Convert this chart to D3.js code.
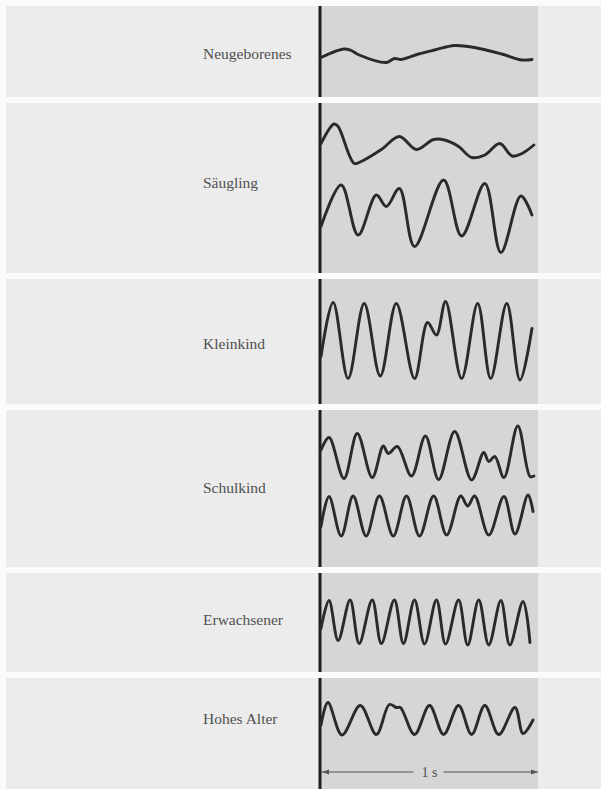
<!DOCTYPE html>
<html>
<head>
<meta charset="utf-8">
<script src="https://cdn.jsdelivr.net/npm/d3@7"></script>
<style>
  body { margin: 0; background: #fbfbfb; }
  svg { display: block; }
  .label { font-family: "Liberation Serif", "DejaVu Serif", serif; font-size: 15.5px; fill: #505050; }
</style>
</head>
<body>
<svg id="chart"></svg>
<script>
// EEG traces: [time in s, amplitude in µV]
let neugeborenes = [[0, -7], [0.106, 10], [0.139, 7], [0.176, -2], [0.301, -17], [0.338, -9], [0.370, -11],
  [0.449, 0], [0.523, 8], [0.616, 17], [0.708, 13], [0.833, 0], [0.926, -12], [0.972, -11]];

let saeuglingA = [[0, 9], [0.060, 48], [0.079, 43], [0.153, -31], [0.185, -27], [0.278, -3], [0.361, 23],
  [0.440, -3], [0.519, 17], [0.569, 16], [0.634, 3], [0.694, -19], [0.755, -14], [0.824, 9], [0.880, -16],
  [0.926, -11], [0.981, 6]];

let saeuglingB = [[0, -17], [0.093, 66], [0.171, -34], [0.255, 46], [0.301, 23], [0.361, 59], [0.431, -57],
  [0.565, 76], [0.648, -36], [0.755, 69], [0.829, -69], [0.921, 44], [0.972, 6]];

let kleinkind = [[0, -31], [0.056, 77], [0.125, -75], [0.199, 75], [0.273, -70], [0.347, 75], [0.431, -75],
  [0.491, 37], [0.532, 12], [0.574, 79], [0.648, -75], [0.722, 75], [0.782, -75], [0.856, 75], [0.917, -78],
  [0.972, 25]];

let schulkindA = [[0, 12], [0.037, 37], [0.106, -45], [0.167, 45], [0.236, -43], [0.287, 20], [0.310, 5],
  [0.352, 19], [0.417, -40], [0.481, 40], [0.542, -47], [0.616, 49], [0.694, -48], [0.750, 7], [0.773, -11],
  [0.801, -1], [0.843, -43], [0.907, 60], [0.963, -41], [0.981, -40]];

let schulkindB = [[0, -21], [0.037, 39], [0.093, -40], [0.148, 40], [0.208, -40], [0.269, 40], [0.333, -40],
  [0.394, 40], [0.454, -40], [0.519, 40], [0.579, -38], [0.644, 40], [0.676, 20], [0.708, 40], [0.773, -38],
  [0.843, 39], [0.894, -36], [0.954, 42], [0.977, 9]];

let erwachsener = [[0, -13], [0.037, 43], [0.079, -37], [0.134, 44], [0.176, -43], [0.236, 44], [0.278, -43],
  [0.338, 44], [0.380, -43], [0.431, 44], [0.477, -44], [0.532, 44], [0.574, -44], [0.634, 44], [0.676, -46],
  [0.727, 44], [0.773, -46], [0.829, 43], [0.870, -46], [0.931, 41], [0.963, -41]];

let hohesAlter = [[0, -10], [0.032, 35], [0.097, -30], [0.181, 29], [0.255, -29], [0.315, 31], [0.347, 25],
  [0.366, 25], [0.431, -29], [0.500, 29], [0.565, -29], [0.634, 29], [0.694, -29], [0.755, 29], [0.819, -29],
  [0.894, 25], [0.931, -27], [0.977, 0]];

let labels = ["Neugeborenes", "Säugling", "Kleinkind", "Schulkind", "Erwachsener", "Hohes Alter"];
let traces = [[neugeborenes], [saeuglingA, saeuglingB], [kleinkind], [schulkindA, schulkindB], [erwachsener], [hohesAlter]];
let timeLabel = "1 s";

// layout
let width = 601, height = 789;
let bands = [[6, 97], [103, 273], [279, 404], [410, 567], [573, 672], [678, 789]];
let baselines = [[54], [148, 218], [341], [456, 516], [622], [720]];
let labelY = [59, 188, 349, 493, 625, 724];
let zone = {x0: 320, x1: 538};

let svg = d3.select("#chart").attr("width", width).attr("height", height);

let x = d3.scaleLinear().domain([0, 1]).range([zone.x0 + 1, zone.x1]);

// panel backgrounds
bands.forEach(([y0, y1]) => {
  svg.append("rect")
    .attr("x", 6).attr("y", y0).attr("width", width - 6).attr("height", y1 - y0)
    .attr("fill", "#ececec");
  svg.append("rect")
    .attr("x", zone.x0).attr("y", y0).attr("width", zone.x1 - zone.x0).attr("height", y1 - y0)
    .attr("fill", "#d6d6d6");
  svg.append("line")
    .attr("x1", zone.x0).attr("x2", zone.x0).attr("y1", y0).attr("y2", y1)
    .attr("stroke", "#1e1e1e").attr("stroke-width", 3);
});

// labels
svg.selectAll("text.label")
  .data(labels).enter()
  .append("text")
  .attr("class", "label")
  .attr("x", 203)
  .attr("y", (d, i) => labelY[i])
  .text(d => d);

// traces
traces.forEach((group, i) => {
  group.forEach((trace, j) => {
    let base = baselines[i][j];
    let y = d3.scaleLinear().domain([-100, 100]).range([base + 50, base - 50]);
    let line = d3.line()
      .x(d => x(d[0]))
      .y(d => y(d[1]))
      .curve(d3.curveCatmullRom.alpha(0.5));
    svg.append("path")
      .attr("d", line(trace))
      .attr("fill", "none")
      .attr("stroke", "#2a2a2a")
      .attr("stroke-width", 2.9)
      .attr("stroke-linejoin", "round")
      .attr("stroke-linecap", "round");
  });
});

// time bar
let ay = 772, mid = x(0.5);
svg.append("line")
  .attr("x1", x(0)).attr("x2", mid - 16).attr("y1", ay).attr("y2", ay)
  .attr("stroke", "#555").attr("stroke-width", 1);
svg.append("line")
  .attr("x1", mid + 14).attr("x2", x(1)).attr("y1", ay).attr("y2", ay)
  .attr("stroke", "#555").attr("stroke-width", 1);
svg.append("path")
  .attr("d", `M${x(0) + 1},${ay} l7,-2.5 l0,5 z`)
  .attr("fill", "#555");
svg.append("path")
  .attr("d", `M${x(1)},${ay} l-7,-2.5 l0,5 z`)
  .attr("fill", "#555");
svg.append("text")
  .attr("class", "label")
  .attr("x", mid).attr("y", ay + 5)
  .attr("text-anchor", "middle")
  .style("font-size", "14px")
  .text(timeLabel);
</script>
</body>
</html>
